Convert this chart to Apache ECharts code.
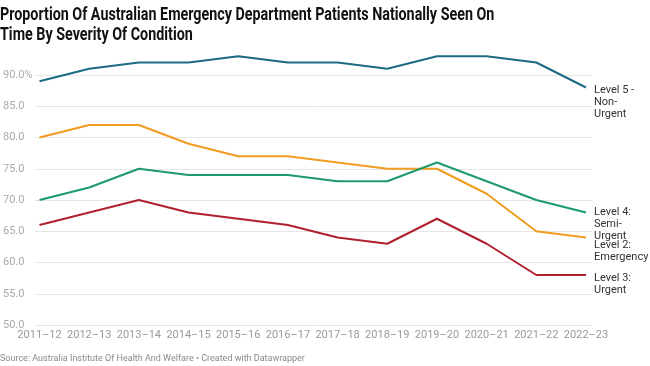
<!DOCTYPE html>
<html><head><meta charset="utf-8">
<script src="https://cdn.jsdelivr.net/npm/echarts@6/dist/echarts.min.js"></script>
<style>html,body{margin:0;padding:0;background:#fff}#c{width:650px;height:366px}</style>
</head><body><div id="c"></div>
<script>
const categories = ["2011–12","2012–13","2013–14","2014–15","2015–16","2016–17","2017–18","2018–19","2019–20","2020–21","2021–22","2022–23"];
const level5 = [89, 91, 92, 92, 93, 92, 92, 91, 93, 93, 92, 88];
const level2 = [80, 82, 82, 79, 77, 77, 76, 75, 75, 71, 65, 64];
const level4 = [70, 72, 75, 74, 74, 74, 73, 73, 76, 73, 70, 68];
const level3 = [66, 68, 70, 68, 67, 66, 64, 63, 67, 63, 58, 58];
const yTicks = [50, 55, 60, 65, 70, 75, 80, 85, 90];
const seriesNames = ["Level 5 -\nNon-\nUrgent", "Level 2:\nEmergency", "Level 4:\nSemi-\nUrgent", "Level 3:\nUrgent"];
const titleLines = ["Proportion Of Australian Emergency Department Patients Nationally Seen On", "Time By Severity Of Condition"];
const sourceText = "Source: Australia Institute Of Health And Welfare • Created with Datawrapper";

const chart = echarts.init(document.getElementById('c'), null, {renderer:'canvas'});
const font = 'Roboto, "Noto Sans", sans-serif';
function mk(name, data, color, dy){
  return {
    type:'line', name, data, xAxisIndex:1, yAxisIndex:1,
    symbol:'none', color, lineStyle:{width:2, color},
    endLabel:{show:true, formatter:name, color:'#333', fontSize:11, fontFamily:font,
      lineHeight:12, align:'left', verticalAlign:'top', distance:8, offset:[0, dy]},
    emphasis:{disabled:true}, animation:false
  };
}
chart.setOption({
  animation:false,
  graphic:[
    {type:'text', left:0, top:5, scaleX:0.795, originX:0, originY:0,
     style:{text:titleLines.join('\n'), font:'bold 18px Roboto, sans-serif', lineHeight:20, fill:'#111'}},
    {type:'text', left:0, top:354, scaleX:1, originX:0, originY:0,
     style:{text:sourceText, font:'9px Roboto, sans-serif', fill:'#8a8a8a'}}
  ],
  grid:[
    {left:32, right:58, top:75, bottom:41},
    {left:39.5, right:64, top:43.75, bottom:41}
  ],
  xAxis:[
    {gridIndex:0, type:'category', data:categories, show:false, boundaryGap:false},
    {gridIndex:1, type:'category', data:categories, boundaryGap:false,
     axisLine:{show:false}, axisTick:{show:false},
     axisLabel:{color:'#999', fontSize:11, fontFamily:font, margin:5, interval:0}}
  ],
  yAxis:[
    {gridIndex:0, type:'value', min:50, max:90, interval:5,
     axisLine:{show:false}, axisTick:{show:false},
     splitLine:{lineStyle:{color:'#e6e6e6', width:1}},
     axisLabel:{color:'#aaa', fontSize:11, fontFamily:font, align:'left', margin:32,
       formatter:v => yTicks.includes(v) ? (v===90 ? v.toFixed(1)+'%' : v.toFixed(1)) : ''}},
    {gridIndex:1, type:'value', min:50, max:95, interval:5, show:false, splitLine:{show:false}}
  ],
  series:[
    mk(seriesNames[0], level5, '#1d6b83', -3),
    mk(seriesNames[1], level2, '#ef9c1f', 1.5),
    mk(seriesNames[2], level4, '#1d9a6c', -6),
    mk(seriesNames[3], level3, '#b0212f', -3)
  ]
});
</script></body></html>
